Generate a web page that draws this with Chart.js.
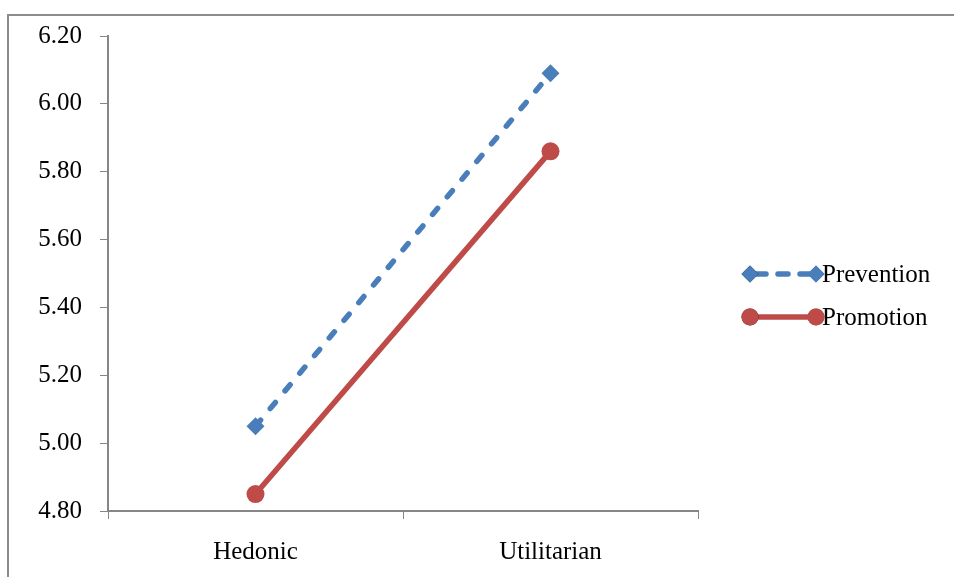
<!DOCTYPE html>
<html>
<head>
<meta charset="utf-8">
<script src="https://cdn.jsdelivr.net/npm/chart.js@4/dist/chart.umd.min.js"></script>
<style>
  html, body { margin: 0; padding: 0; background: #fff; }
  #wrap { width: 954px; height: 577px; position: relative; }
</style>
</head>
<body>
<div id="wrap"><canvas id="chart" width="954" height="577"></canvas></div>
<script>
  // ── Data ─────────────────────────────────────────────────────────────
  var categories = ["Hedonic", "Utilitarian"];
  var prevention = [5.05, 6.09];
  var promotion = [4.85, 5.86];
  var yTicks = [4.8, 5.0, 5.2, 5.4, 5.6, 5.8, 6.0, 6.2];

  var BLUE = "#4a7ebb";
  var RED = "#be4b48";
  var AXIS = "#868686";
  var FONT = "'Liberation Serif', 'Times New Roman', serif";

  // ── Outer frame (the chart box border) ──────────────────────────────
  var framePlugin = {
    id: "frame",
    beforeDraw: function (chart) {
      var ctx = chart.ctx;
      ctx.save();
      ctx.strokeStyle = "#8c8c8c";
      ctx.lineWidth = 2;
      ctx.beginPath();
      ctx.moveTo(8, 577);
      ctx.lineTo(8, 15);
      ctx.lineTo(954, 15);
      ctx.stroke();
      ctx.restore();
    }
  };

  // ── Legend: line sample with a marker at each end ───────────────────
  var legendPlugin = {
    id: "sideLegend",
    afterDraw: function (chart) {
      var ctx = chart.ctx;
      var x0 = 750, x1 = 816, tx = 822;
      var rows = [274, 317];
      ctx.save();
      chart.data.datasets.forEach(function (ds, i) {
        var y = rows[i];
        ctx.strokeStyle = ds.borderColor;
        ctx.lineWidth = ds.borderWidth;
        ctx.lineCap = ds.borderCapStyle || "butt";
        ctx.setLineDash(ds.borderDash ? [10, 12] : []);
        ctx.lineDashOffset = -6;
        ctx.beginPath();
        ctx.moveTo(x0, y);
        ctx.lineTo(x1, y);
        ctx.stroke();
        ctx.setLineDash([]);
        [x0, x1].forEach(function (x) {
          Chart.helpers.drawPoint(ctx, {
            pointStyle: ds.pointStyle,
            radius: ds.pointStyle === "circle" ? 8.5 : 8.5,
            rotation: 0,
            borderWidth: 0
          }, x, y);
          ctx.fillStyle = ds.backgroundColor;
          ctx.fill();
        });
        ctx.fillStyle = "#000";
        ctx.font = "25px " + FONT;
        ctx.textBaseline = "middle";
        ctx.textAlign = "left";
        ctx.fillText(ds.label, tx, y + 1);
      });
      ctx.restore();
    }
  };

  new Chart(document.getElementById("chart").getContext("2d"), {
    type: "line",
    data: {
      labels: categories,
      datasets: [{
        label: "Prevention",
        data: prevention,
        borderColor: BLUE,
        backgroundColor: BLUE,
        borderWidth: 5.5,
        borderDash: [8, 15],
        borderCapStyle: "round",
        pointStyle: "rectRot",
        pointRadius: 9,
        pointBorderWidth: 0,
        tension: 0
      }, {
        label: "Promotion",
        data: promotion,
        borderColor: RED,
        backgroundColor: RED,
        borderWidth: 5.5,
        pointStyle: "circle",
        pointRadius: 9,
        pointBorderWidth: 0,
        tension: 0
      }]
    },
    options: {
      responsive: false,
      animation: false,
      layout: { padding: { left: 0, top: 36, right: 256, bottom: 0 } },
      plugins: {
        legend: { display: false },
        tooltip: { enabled: false }
      },
      scales: {
        x: {
          offset: true,
          grid: {
            offset: true,
            drawOnChartArea: false,
            color: AXIS,
            tickLength: 8,
            tickColor: AXIS
          },
          border: { color: AXIS, width: 2 },
          ticks: {
            color: "#000",
            padding: 18,
            font: { family: FONT, size: 25 }
          },
          afterFit: function (axis) { axis.height = 66; }
        },
        y: {
          min: 4.8,
          max: 6.2,
          afterBuildTicks: function (axis) {
            axis.ticks = yTicks.map(function (v) { return { value: v }; });
          },
          grid: {
            drawOnChartArea: false,
            tickLength: 8,
            tickColor: AXIS
          },
          border: { color: AXIS, width: 2 },
          ticks: {
            color: "#000",
            padding: 18,
            font: { family: FONT, size: 25 },
            callback: function (v) { return Number(v).toFixed(2); }
          },
          afterFit: function (axis) { axis.width = 108; }
        }
      }
    },
    plugins: [framePlugin, legendPlugin]
  });
</script>
</body>
</html>
